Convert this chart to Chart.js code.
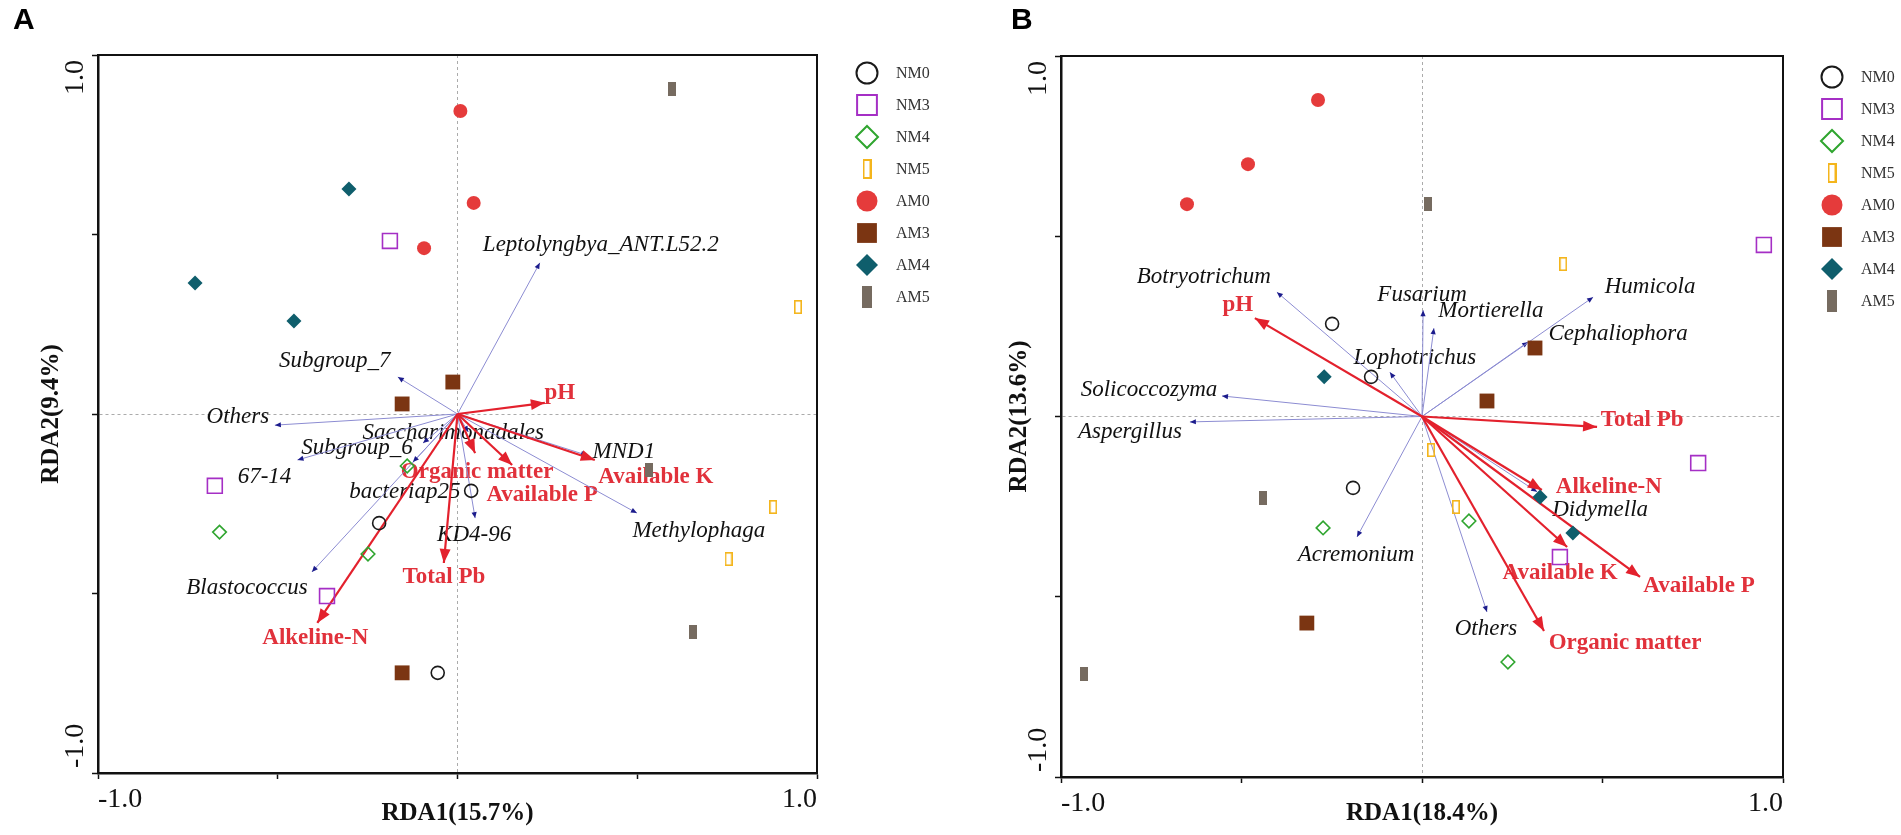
<!DOCTYPE html>
<html>
<head>
<meta charset="utf-8">
<script src="https://cdn.jsdelivr.net/npm/chart.js@4.4.1/dist/chart.umd.min.js"></script>
<style>
  html, body { margin: 0; padding: 0; background: #fff; }
  #wrap { position: relative; width: 1901px; height: 835px; overflow: hidden; background: #fff; }
  canvas { position: absolute; top: 0; }
  #rdaA { left: 0; }
  #rdaB { left: 950px; }
</style>
</head>
<body>
<div id="wrap">
  <canvas id="rdaA" width="950" height="835"></canvas>
  <canvas id="rdaB" width="951" height="835"></canvas>
</div>
<script>
// Treatments, three replicate samples each
const groupNames = ['NM0', 'NM3', 'NM4', 'NM5', 'AM0', 'AM3', 'AM4', 'AM5'];

// Panel A (bacteria) sample scores
const sitesA_x = [
  [0.038, -0.218, -0.055],
  [-0.188, -0.675, -0.363],
  [-0.140, -0.662, -0.249],
  [0.947, 0.878, 0.754],
  [0.008, 0.045, -0.093],
  [-0.013, -0.154, -0.154],
  [-0.302, -0.730, -0.455],
  [0.597, 0.534, 0.655]
];
const sitesA_y = [
  [-0.214, -0.304, -0.721],
  [0.482, -0.200, -0.507],
  [-0.145, -0.329, -0.390],
  [0.298, -0.259, -0.404],
  [0.844, 0.588, 0.462],
  [0.089, 0.028, -0.721],
  [0.627, 0.365, 0.259],
  [0.905, -0.156, -0.607]
];

// Panel B (fungi) sample scores
const sitesB_x = [
  [-0.249, -0.141, -0.191],
  [0.947, 0.765, 0.382],
  [-0.274, 0.130, 0.238],
  [0.391, 0.025, 0.094],
  [-0.288, -0.482, -0.651],
  [-0.319, 0.313, 0.180],
  [-0.271, 0.327, 0.418],
  [0.017, -0.440, -0.936]
];
const sitesB_y = [
  [0.257, 0.110, -0.198],
  [0.476, -0.129, -0.390],
  [-0.309, -0.290, -0.681],
  [0.423, -0.093, -0.251],
  [0.878, 0.700, 0.589],
  [-0.573, 0.190, 0.043],
  [0.110, -0.223, -0.323],
  [0.589, -0.226, -0.714]
];

// Soil properties (red vectors)
const envNames = ['pH', 'Organic matter', 'Available P', 'Available K', 'Total Pb', 'Alkeline-N'];
const envA_x = [0.243, 0.049, 0.152, 0.382, -0.038, -0.390];
const envA_y = [0.031, -0.109, -0.142, -0.128, -0.415, -0.582];
const envB_x = [-0.463, 0.338, 0.604, 0.402, 0.485, 0.332];
const envB_y = [0.273, -0.595, -0.445, -0.362, -0.029, -0.204];

// Taxa (thin blue vectors)
const taxaA = ['Leptolyngbya_ANT.L52.2', 'Subgroup_7', 'Others', 'Saccharimonadales', 'Subgroup_6', '67-14',
               'bacteriap25', 'KD4-96', 'Methylophaga', 'MND1', 'Blastococcus'];
const taxaA_x = [0.229, -0.166, -0.508, 0.030, -0.096, -0.445, -0.124, 0.049, 0.499, 0.360, -0.405];
const taxaA_y = [0.421, 0.103, -0.031, -0.050, -0.081, -0.128, -0.134, -0.290, -0.276, -0.115, -0.440];

const taxaB = ['Botryotrichum', 'Fusarium', 'Mortierella', 'Lophotrichus', 'Humicola', 'Cephaliophora',
               'Solicoccozyma', 'Aspergillus', 'Acremonium', 'Didymella', 'Others'];
const taxaB_x = [-0.402, 0.003, 0.033, -0.089, 0.474, 0.294, -0.554, -0.643, -0.180, 0.319, 0.180];
const taxaB_y = [0.345, 0.295, 0.245, 0.123, 0.331, 0.207, 0.057, -0.015, -0.334, -0.209, -0.542];

// label placement: pixel offset of label centre from the arrow tip
const envA_lab = [[15, -10], [2, 19], [30, 30], [61, 17], [0, 14], [-2, 15]];
const envB_lab = [[-17, -13], [81, 12], [59, 9], [-7, 26], [45, -7], [67, -3]];
const taxaA_lab = [[61, -18], [-63, -16], [-37, -8], [-15, 1], [-66, 5], [-33, 17], [-8, 30], [-1, 17], [62, 18], [37, -3], [-65, 16]];
const taxaB_lab = [[-73, -15], [-1, -15], [57, -17], [25, -14], [57, -10], [90, -8], [-73, -6], [-60, 10], [-1, 18], [63, 18], [-1, 17]];

// marker look per treatment
const markerColor = ['#1a1a1a', '#a52fc5', '#2fa52f', '#f4b51c', '#e53b3b', '#7b3512', '#0f5e6c', '#766b60'];
const markerShape = ['circle', 'rect', 'rectRot', 'bar', 'circle', 'rect', 'rectRot', 'bar'];
const markerFilled = [false, false, false, false, true, true, true, true];

const SERIF = '"Liberation Serif", "Times New Roman", serif';
const RED = '#e3212d';

function barCanvas(w, h, color, filled, lw) {
  const c = document.createElement('canvas');
  c.width = w; c.height = h;
  const g = c.getContext('2d');
  if (filled) {
    g.fillStyle = color;
    g.fillRect(0, 0, w, h);
  } else {
    g.strokeStyle = color;
    g.lineWidth = lw;
    g.strokeRect(lw / 2, lw / 2, w - lw, h - lw);
  }
  return c;
}

function markerStyle(i, big) {
  const shape = markerShape[i], col = markerColor[i], filled = markerFilled[i];
  const fill = filled ? col : 'rgba(0,0,0,0)';
  const bw = filled ? 0 : (big ? 2 : 1.6);
  if (shape === 'bar') {
    const w = big ? (filled ? 10 : 9) : 8;
    const h = big ? (filled ? 22 : 20) : 14;
    return { style: barCanvas(w, h, col, filled, big ? 2 : 1.6), radius: h / 2, bw: 0, fill: fill, stroke: col };
  }
  let r;
  if (shape === 'circle') r = big ? 10.5 : (filled ? 7 : 6.5);
  else if (shape === 'rect') r = big ? 14 : 10.5;
  else r = big ? 11 : (filled ? 7.5 : 6.8);
  return { style: shape, radius: r, bw: bw, fill: fill, stroke: col };
}

function makePanel(canvasId, cfg) {
  const datasets = [];

  groupNames.forEach((g, i) => {
    const m = markerStyle(i, false);
    datasets.push({
      label: g,
      data: cfg.sx[i].map((x, k) => ({ x: x, y: cfg.sy[i][k] })),
      pointStyle: m.style, pointRadius: m.radius, pointBorderWidth: m.bw,
      pointBackgroundColor: m.fill, pointBorderColor: m.stroke,
      showLine: false, order: 1
    });
  });

  envNames.forEach((n, i) => {
    datasets.push({
      label: n,
      data: [{ x: 0, y: 0 }, { x: cfg.ex[i], y: cfg.ey[i] }],
      showLine: true, borderColor: RED, borderWidth: 2.2, pointRadius: 0,
      order: 2, arrow: 'env', labelOffset: cfg.elab[i]
    });
  });

  cfg.taxa.forEach((n, i) => {
    datasets.push({
      label: n,
      data: [{ x: 0, y: 0 }, { x: cfg.tx[i], y: cfg.ty[i] }],
      showLine: true, borderColor: '#8c8cd2', borderWidth: 1, pointRadius: 0,
      order: 3, arrow: 'taxon', labelOffset: cfg.tlab[i]
    });
  });

  const gridOpts = {
    color: c => (c.tick && c.tick.value === 0) ? '#ababab' : 'rgba(0,0,0,0)',
    lineWidth: 1,
    drawTicks: true,
    tickLength: 6,
    tickColor: '#111',
    tickWidth: 1.5
  };
  const borderOpts = { display: true, color: '#111', width: 2.5, dash: [3, 3] };

  const rdaPlugin = {
    id: 'rda' + canvasId,
    beforeDatasetsDraw(chart) {
      const ctx = chart.ctx;
      ctx.save();
      chart.data.datasets.forEach((ds, i) => {
        if (!ds.arrow) return;
        const tip = chart.getDatasetMeta(i).data[1];
        if (ds.arrow === 'env') {
          ctx.font = 'bold 23px ' + SERIF;
          ctx.fillStyle = '#e1313b';
        } else {
          ctx.font = 'italic 23px ' + SERIF;
          ctx.fillStyle = '#111';
        }
        ctx.textAlign = 'center';
        ctx.textBaseline = 'middle';
        ctx.fillText(ds.label, tip.x + ds.labelOffset[0], tip.y + ds.labelOffset[1]);
      });
      ctx.restore();
    },
    afterDatasetDraw(chart, args) {
      const ds = chart.data.datasets[args.index];
      if (!ds.arrow) return;
      const p0 = args.meta.data[0], p1 = args.meta.data[1];
      const a = Math.atan2(p1.y - p0.y, p1.x - p0.x);
      const len = ds.arrow === 'env' ? 14 : 6;
      const half = ds.arrow === 'env' ? 5.5 : 2.6;
      const ctx = chart.ctx;
      ctx.save();
      ctx.translate(p1.x, p1.y);
      ctx.rotate(a);
      ctx.beginPath();
      ctx.moveTo(0, 0);
      ctx.lineTo(-len, -half);
      ctx.lineTo(-len, half);
      ctx.closePath();
      ctx.fillStyle = ds.arrow === 'env' ? RED : '#1c1c8c';
      ctx.fill();
      ctx.restore();
    },
    afterDraw(chart) {
      const ctx = chart.ctx;
      const area = chart.chartArea;
      ctx.save();

      // top and right frame
      ctx.strokeStyle = '#111';
      ctx.lineWidth = 2;
      ctx.beginPath();
      ctx.moveTo(area.left - 1, area.top);
      ctx.lineTo(area.right, area.top);
      ctx.lineTo(area.right, area.bottom);
      ctx.stroke();

      // rotated y tick labels
      const ys = chart.scales.y;
      const xb = cfg.yw - 15;
      ctx.font = '28px ' + SERIF;
      ctx.fillStyle = '#111';
      ctx.textBaseline = 'alphabetic';
      [[1, 'right', 5], [-1, 'left', -5]].forEach(t => {
        ctx.save();
        ctx.translate(xb, ys.getPixelForValue(t[0]) + t[2]);
        ctx.rotate(-Math.PI / 2);
        ctx.textAlign = t[1];
        ctx.fillText(t[0].toFixed(1), 0, 0);
        ctx.restore();
      });

      // legend
      groupNames.forEach((g, i) => {
        const y = cfg.legY + i * 32;
        const m = markerStyle(i, true);
        ctx.fillStyle = m.fill;
        ctx.strokeStyle = m.stroke;
        ctx.lineWidth = m.bw;
        Chart.helpers.drawPoint(ctx, { pointStyle: m.style, radius: m.radius, borderWidth: m.bw, rotation: 0 }, cfg.legX, y);
        ctx.fillStyle = '#333';
        ctx.font = '16px ' + SERIF;
        ctx.textAlign = 'left';
        ctx.textBaseline = 'middle';
        ctx.fillText(g, cfg.legLabelX, y + 1);
      });

      // panel letter
      ctx.fillStyle = '#000';
      ctx.font = 'bold 30px "Liberation Sans", Arial, sans-serif';
      ctx.textAlign = 'left';
      ctx.textBaseline = 'alphabetic';
      ctx.fillText(cfg.letter, cfg.letterX, 29);
      ctx.restore();
    }
  };

  new Chart(document.getElementById(canvasId).getContext('2d'), {
    type: 'scatter',
    data: { datasets: datasets },
    options: {
      responsive: false,
      animation: false,
      events: [],
      devicePixelRatio: 1,
      layout: { autoPadding: false, padding: { left: 0, top: cfg.top, right: cfg.padRight, bottom: 0 } },
      plugins: { legend: { display: false }, tooltip: { enabled: false } },
      scales: {
        x: {
          type: 'linear', min: -1, max: 1,
          afterFit: s => { s.height = cfg.xh; },
          ticks: {
            stepSize: 0.5, align: 'inner', maxRotation: 0, minRotation: 0, autoSkip: false,
            padding: 4, color: '#111', font: { family: SERIF, size: 28 },
            callback: v => Math.abs(v) === 1 ? v.toFixed(1) : ''
          },
          grid: gridOpts,
          border: borderOpts,
          title: {
            display: true, text: cfg.xTitle, color: '#111',
            font: { family: SERIF, size: 25, weight: 'bold' },
            padding: { top: 0, bottom: 6 }
          }
        },
        y: {
          type: 'linear', min: -1, max: 1,
          afterFit: s => { s.width = cfg.yw; },
          ticks: { stepSize: 0.5, autoSkip: false, callback: () => '' },
          grid: gridOpts,
          border: borderOpts,
          title: {
            display: true, text: cfg.yTitle, color: '#111',
            font: { family: SERIF, size: 25, weight: 'bold' },
            padding: { top: cfg.yTitlePad, bottom: 0 }
          }
        }
      }
    },
    plugins: [rdaPlugin]
  });
}

makePanel('rdaA', {
  sx: sitesA_x, sy: sitesA_y,
  ex: envA_x, ey: envA_y, elab: envA_lab,
  taxa: taxaA, tx: taxaA_x, ty: taxaA_y, tlab: taxaA_lab,
  xTitle: 'RDA1(15.7%)', yTitle: 'RDA2(9.4%)',
  top: 55, xh: 62, yw: 98, padRight: 133, yTitlePad: 37,
  legX: 867, legLabelX: 896, legY: 73,
  letter: 'A', letterX: 13
});

makePanel('rdaB', {
  sx: sitesB_x, sy: sitesB_y,
  ex: envB_x, ey: envB_y, elab: envB_lab,
  taxa: taxaB, tx: taxaB_x, ty: taxaB_y, tlab: taxaB_lab,
  xTitle: 'RDA1(18.4%)', yTitle: 'RDA2(13.6%)',
  top: 56, xh: 58, yw: 111, padRight: 118, yTitlePad: 55,
  legX: 882, legLabelX: 911, legY: 77,
  letter: 'B', letterX: 61
});
</script>
</body>
</html>
